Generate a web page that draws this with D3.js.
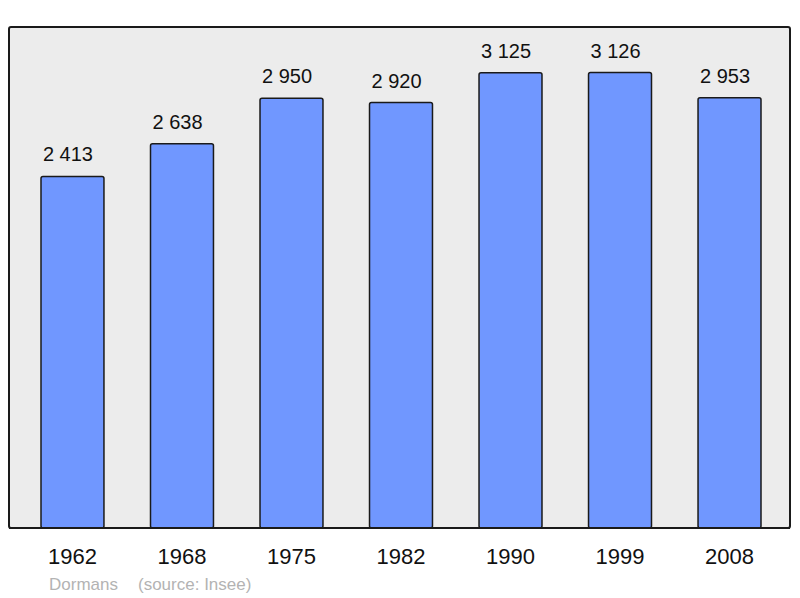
<!DOCTYPE html>
<html>
<head>
<meta charset="utf-8">
<script src="https://cdn.jsdelivr.net/npm/d3@7"></script>
<style>
  html, body { margin: 0; padding: 0; background: #ffffff; }
  svg { display: block; font-family: "Liberation Sans", Arial, Helvetica, sans-serif; }
</style>
</head>
<body>
<svg width="800" height="598"></svg>
<script>
const years = ["1962", "1968", "1975", "1982", "1990", "1999", "2008"];
const population = [2413, 2638, 2950, 2920, 3125, 3126, 2953];
const town = "Dormans";
const source = "(source: Insee)";

const FRAME = { left: 9, top: 27, right: 790, bottom: 528 };

function formatPop(v) {
    // French style thousands separator (space)
    return d3.format(",")(v).replace(/,/g, " ");
}

function drawChart(svg) {
    const x = d3.scaleBand()
        .domain(years)
        .range([18, 784])
        .paddingInner(0.425)
        .paddingOuter(0.21);

    const y = d3.scaleLinear()
        .domain([0, d3.max(population) * 1.1])
        .range([FRAME.bottom, FRAME.top]);

    svg.append("rect")
        .attr("x", FRAME.left)
        .attr("y", FRAME.top)
        .attr("width", FRAME.right - FRAME.left)
        .attr("height", FRAME.bottom - FRAME.top)
        .attr("rx", 2)
        .style("fill", "#ececec")
        .style("stroke", "#1a1a1a")
        .style("stroke-width", "2px");

    const data = years.map((yr, i) => ({ year: yr, value: population[i] }));

    svg.selectAll("rect.bar")
        .data(data)
        .enter().append("rect")
        .attr("class", "bar")
        .attr("x", d => x(d.year))
        .attr("y", d => y(d.value))
        .attr("width", x.bandwidth())
        .attr("height", d => FRAME.bottom - y(d.value))
        .attr("rx", 2)
        .style("fill", "#7097ff")
        .style("stroke", "#1a1a1a")
        .style("stroke-width", "1.5px");

    // redraw bottom frame line over the bars
    svg.append("line")
        .attr("x1", FRAME.left)
        .attr("x2", FRAME.right)
        .attr("y1", FRAME.bottom)
        .attr("y2", FRAME.bottom)
        .style("stroke", "#1a1a1a")
        .style("stroke-width", "2px");

    svg.selectAll("text.value")
        .data(data)
        .enter().append("text")
        .attr("class", "value")
        .attr("x", d => x(d.year) + x.bandwidth() / 2 - 4.5)
        .attr("y", d => y(d.value) - 15)
        .attr("text-anchor", "middle")
        .style("font-size", "20px")
        .style("fill", "#111")
        .text(d => formatPop(d.value));

    const xAxis = svg.append("g")
        .attr("transform", `translate(0, ${FRAME.bottom})`)
        .call(d3.axisBottom(x).tickSize(0).tickPadding(0));
    xAxis.select(".domain").remove();
    xAxis.selectAll("text")
        .attr("dy", null)
        .attr("y", 36)
        .style("font-size", "22px")
        .style("font-family", "\"Liberation Sans\", Arial, Helvetica, sans-serif")
        .style("fill", "#111");

    svg.append("text")
        .attr("x", 49)
        .attr("y", 590)
        .style("font-size", "17px")
        .style("fill", "#b3b3b3")
        .text(town);

    svg.append("text")
        .attr("x", 138)
        .attr("y", 590)
        .style("font-size", "17px")
        .style("fill", "#b3b3b3")
        .text(source);
}

drawChart(d3.select("svg"));
</script>
</body>
</html>
